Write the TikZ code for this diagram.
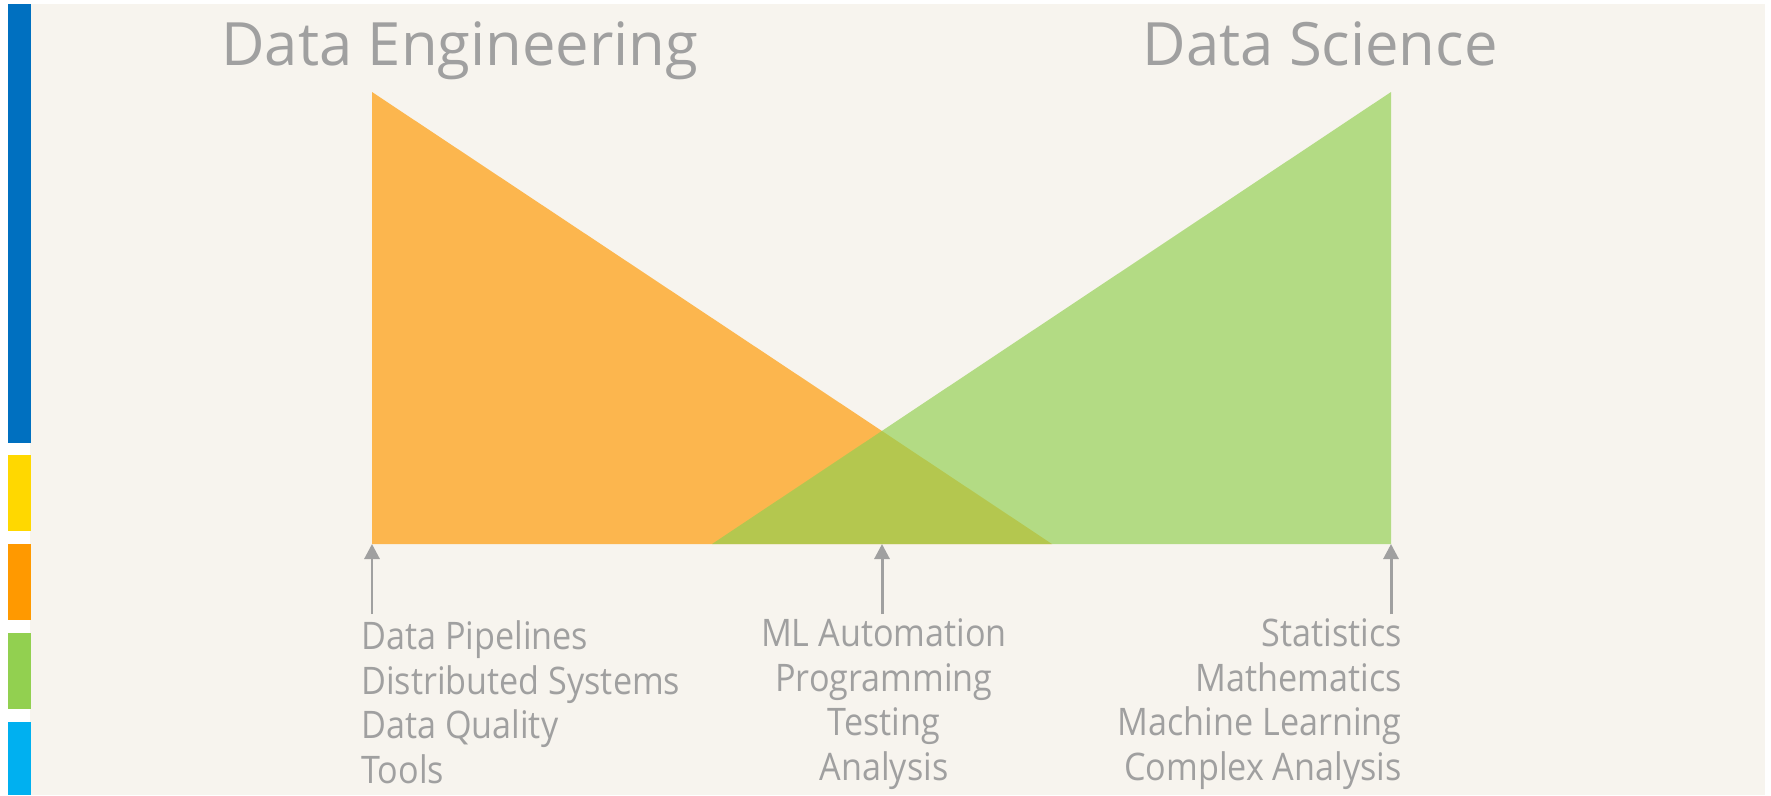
\documentclass[tikz,border=0pt]{standalone}
\usepackage{fontspec}
\setmainfont{Open Sans}
\newfontfamily\listfont{Open Sans}[FakeStretch=0.9]
\usetikzlibrary{arrows.meta}
\definecolor{panel}{HTML}{F7F4EE}
\definecolor{txtgray}{HTML}{A0A0A0}
\definecolor{barblue}{HTML}{0070C0}
\definecolor{baryellow}{HTML}{FFD800}
\definecolor{barorange}{HTML}{FF9900}
\definecolor{bargreen}{HTML}{92D050}
\definecolor{barcyan}{HTML}{00B0F0}

\begin{document}
\begin{tikzpicture}[x=0.02cm,y=-0.02cm,
  title node/.style={font=\fontsize{34}{40}\selectfont,text=txtgray,inner sep=0pt},
  list node/.style={font=\listfont\fontsize{21.6}{25.3}\selectfont,text=txtgray,inner sep=0pt},
  pointer/.style={-{Triangle[length=0.3cm,width=0.3cm]},color=txtgray,line width=1.7pt}]
  \useasboundingbox[fill=white] (0,0) rectangle (1771,795);
  \fill[panel] (30,4) rectangle (1765,795);

  % side bars
  \fill[barblue] (8,4) rectangle (31,443);
  \fill[baryellow] (8,455) rectangle (31,531);
  \fill[barorange] (8,544) rectangle (31,620);
  \fill[bargreen] (8,633) rectangle (31,709);
  \fill[barcyan] (8,722) rectangle (31,795);

  % triangles
  \coordinate (DEtop) at (372,92);
  \coordinate (DEbase) at (372,544);
  \coordinate (DEend) at (1052,544);
  \coordinate (DStop) at (1391,92);
  \coordinate (DSbase) at (1391,544);
  \coordinate (DSend) at (712,544);
  \coordinate (mid) at (882,544);
  \fill[barorange,fill opacity=0.67] (DEtop) -- (DEbase) -- (DEend) -- cycle;
  \fill[bargreen,fill opacity=0.67] (DStop) -- (DSbase) -- (DSend) -- cycle;

  \node[title node,anchor=base west] (de) at (221,65) {Data Engineering};
  \node[title node,anchor=base east] (ds) at (1498,65) {Data Science};

  % anchors sit on the last line
  \node[list node,anchor=base west,align=left] (left) at (361,783) {Data Pipelines\\Distributed Systems\\Data Quality\\Tools};
  \node[list node,anchor=base,align=center] (centre) at (884,780) {ML Automation\\Programming\\Testing\\Analysis};
  \node[list node,anchor=base east,align=right] (right) at (1402,780) {Statistics\\Mathematics\\Machine Learning\\Complex Analysis};

  \coordinate (pl) at (372,614);
  \coordinate (pc) at (882,614);
  \coordinate (pr) at (1391,614);
  \draw[pointer] (pl) -- (DEbase);
  \draw[pointer] (pc) -- (mid);
  \draw[pointer] (pr) -- (DSbase);
\end{tikzpicture}
\end{document}
